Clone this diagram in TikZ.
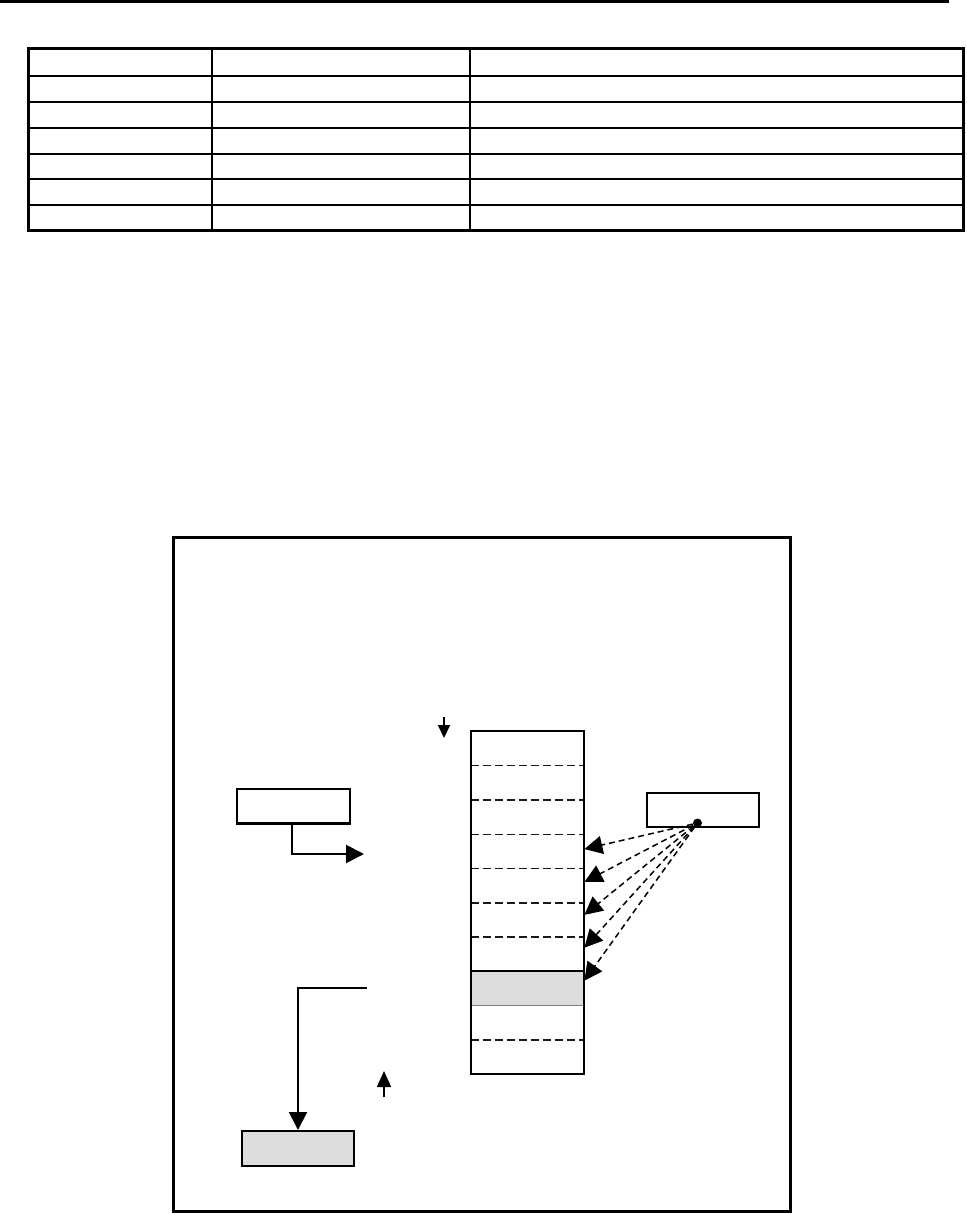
\documentclass[tikz,border=0pt]{standalone}
\usepackage{tikz}
\usetikzlibrary{arrows.meta, positioning, fit}

\begin{document}
\begin{tikzpicture}[
    % one unit is one pixel of the page, y runs downwards
    x=0.5pt, y=-0.5pt,
    thickrule/.style = {line width=1.5pt},
    cellrow/.style = {rectangle, inner sep=0pt, minimum width=56.5pt, minimum height=17.15pt},
    divider/.style = {dash pattern=on 4pt off 2pt, line width=0.75pt, black!90},
    plainbox/.style = {rectangle, draw, line width=0.75pt, inner sep=0pt, minimum width=56.5pt, minimum height=17pt},
    greybox/.style = {rectangle, draw, line width=1pt, fill=gray!27, inner sep=0pt, minimum width=56pt, minimum height=17.5pt},
    arrow/.style = {line width=1pt, -{Triangle[length=9pt, width=9pt]}},
    darrow/.style = {dash pattern=on 3pt off 2pt, line width=0.75pt, -{Triangle[length=9pt, width=9pt]}},
    smallarrow/.style = {line width=0.9pt, -{Triangle[length=6.5pt, width=6pt]}},
    dotnode/.style = {circle, fill, inner sep=0pt, minimum size=4.5pt}
]
    \useasboundingbox (0,0) rectangle (966,1214);

    % 1. Page rule and the empty table at the top
    \draw[thickrule] (0,1.5) -- (949,1.5);
    \draw[thickrule] (28,49) rectangle (963,231);
    \foreach \ry in {76,102,128,154,179,205}
        \draw[line width=1pt] (28,\ry) -- (963,\ry);
    \foreach \cx in {212,470}
        \draw[line width=1pt] (\cx,49) -- (\cx,231);

    % 2. Outer frame of the figure
    \draw[thickrule] (173,537) rectangle (790,1211);

    % 3. Stack of ten rows, the eighth one shaded
    \foreach \i in {1,...,10}
        \node (cell\i) [cellrow] at (527.5,{731+34.3*\i-17.15}) {};
    \fill[gray!27] (cell8.north west) rectangle (cell8.south east);
    \foreach \i in {1,...,6,9}
        \draw[divider] (cell\i.south west) -- (cell\i.south east);
    \draw[line width=0.5pt, gray] (cell8.south west) -- (cell8.south east);
    \draw[line width=1pt] (cell8.north west) -- (cell8.north east);
    \node (stack) [draw, line width=1pt, inner sep=0pt, fit=(cell1) (cell10)] {};

    % 4. Boxes left and right of the stack
    \node (src) [plainbox] at (293.5,806) {};
    \draw[line width=1.25pt] (src.south west) -- (src.south east);
    \node (tbl) [plainbox, minimum width=56pt] at (703,810) {};
    \node (dot) [dotnode] at (697.5,823) {};
    \node (res) [greybox] at (298,1148.5) {};

    % 5. Free ends of the solid arrows
    \coordinate (srcend)   at (364,854);
    \coordinate (feedtop)  at (444,717);
    \coordinate (feedtip)  at (444,738);
    \coordinate (outstart) at (367,988);
    \coordinate (upfoot)   at (384,1097);
    \coordinate (uptip)    at (384,1071);

    \draw[arrow] ([xshift=-1pt]src.south) |- (srcend);
    \draw[smallarrow] (feedtop) -- (feedtip);
    \draw[arrow] (outstart) -| (res.north);
    \draw[line width=0.9pt, -{Triangle[length=8pt, width=7pt]}] (upfoot) -- (uptip);

    % 6. Dashed pointers from the dot into the stack
    \foreach \i in {4,...,8}
        \draw[darrow] (dot) -- ([yshift={\i*0.7pt-1.8pt}]cell\i.east);

\end{tikzpicture}
\end{document}
